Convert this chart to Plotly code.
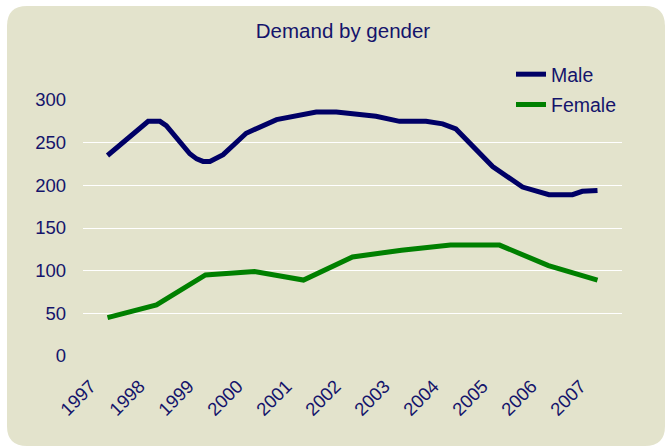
import plotly.graph_objects as go

years = ["1997", "1998", "1999", "2000", "2001", "2002", "2003", "2004", "2005", "2006", "2007"]
female = [45, 60, 95, 99, 89, 116, 124, 130, 130, 106, 89]

# Male series is finer grained (positions in category units, 0 = 1997)
male_pos = [0.0, 0.66, 0.83, 1.07, 1.2, 1.68, 1.82, 1.95, 2.09, 2.36, 2.83, 3.45,
            4.26, 4.67, 5.08, 5.48, 5.96, 6.5, 6.84, 7.11, 7.86, 8.47, 9.01, 9.49, 9.69, 10.0]
male = [235, 268, 275, 275, 270, 237, 231, 228, 228, 236, 261, 277,
        286, 286, 284, 281, 275, 275, 272, 266, 222, 198, 189, 189, 193, 194]

W, H = 668, 447
L, R, T, B = 83, 622, 100, 356  # plot area in pixels

TXT = "#14146b"
NAVY = "#000066"
GREEN = "#008000"
BEIGE = "#E3E3CC"

def px(x):
    return (x - L) / (R - L)

def py(y):
    return (B - y) / (B - T)

fig = go.Figure()
fig.add_trace(go.Scatter(x=male_pos, y=male, mode="lines", name="Male",
                         line=dict(color=NAVY, width=5), legendgroup="m"))
fig.add_trace(go.Scatter(x=list(range(len(years))), y=female, mode="lines", name="Female",
                         line=dict(color=GREEN, width=5), legendgroup="f"))

# rounded beige background panel
x0, x1, y0, y1, r = 7, 665, 6, 446, 20
path = (f"M{px(x0)},{py(y0 + r)} Q{px(x0)},{py(y0)} {px(x0 + r)},{py(y0)} "
        f"L{px(x1 - r)},{py(y0)} Q{px(x1)},{py(y0)} {px(x1)},{py(y0 + r)} "
        f"L{px(x1)},{py(y1 - r)} Q{px(x1)},{py(y1)} {px(x1 - r)},{py(y1)} "
        f"L{px(x0 + r)},{py(y1)} Q{px(x0)},{py(y1)} {px(x0)},{py(y1 - r)} Z")
fig.add_shape(type="path", path=path, xref="paper", yref="paper",
              fillcolor=BEIGE, line=dict(width=0), layer="below")
# legend box area hides the top gridline on the right
fig.add_shape(type="rect", xref="paper", yref="paper",
              x0=px(484), x1=px(R + 2), y0=py(104), y1=py(96),
              fillcolor=BEIGE, line=dict(width=0), layer="above")

fam = "Liberation Sans, Arial, sans-serif"
tick_font = dict(family=fam, size=18.5, color=TXT)
leg_font = dict(family=fam, size=19.5, color=TXT)
title_font = dict(family=fam, size=20.5, color=TXT)

fig.update_layout(
    width=W, height=H,
    margin=dict(l=L, r=W - R, t=T, b=H - B, pad=0),
    paper_bgcolor="white",
    plot_bgcolor="rgba(0,0,0,0)",
    font=tick_font,
    title=dict(text="Demand by gender", x=px(343), xref="paper", xanchor="center",
               y=1 - 31 / H, yref="container", yanchor="middle", font=title_font),
    showlegend=True,
    legend=dict(x=px(511), y=py(55), xanchor="left", yanchor="top",
                bgcolor="rgba(0,0,0,0)", borderwidth=0, font=leg_font,
                traceorder="grouped", tracegroupgap=2),
    xaxis=dict(range=[-0.5, 10.5], tickmode="array", tickvals=list(range(len(years))),
               ticktext=years, tickangle=-45, showgrid=False, zeroline=False,
               showline=False, ticks="", tickfont=tick_font, fixedrange=True,
               ticklabelshift=-17, ticklabelstandoff=15),
    yaxis=dict(range=[0, 300], dtick=50, tick0=0, showgrid=True, gridcolor="white",
               gridwidth=1, zeroline=False, showline=False, ticks="",
               ticklabelstandoff=16, tickfont=tick_font, fixedrange=True),
)

fig.write_html("out.html", config={"displayModeBar": False},
               post_script="document.body.style.margin='0';")
